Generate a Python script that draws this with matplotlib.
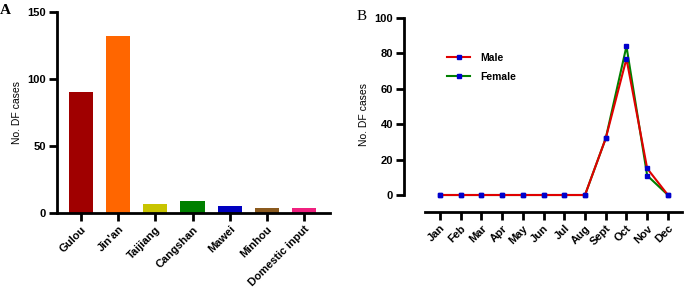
import matplotlib
matplotlib.use("Agg")
import matplotlib.pyplot as plt

plt.rcParams['font.family'] = ['Liberation Sans', 'DejaVu Sans']

districts = ["Gulou", "Jin'an", "Taijiang", "Cangshan", "Mawei", "Minhou", "Domestic input"]
district_cases = [90, 132, 7, 9, 5, 4, 4]
district_colors = ["#A00000", "#FF6600", "#C8C400", "#008000", "#0000C0", "#8B5A1E", "#F0207F"]

months = ["Jan", "Feb", "Mar", "Apr", "May", "Jun", "Jul", "Aug", "Sept", "Oct", "Nov", "Dec"]
male = [0, 0, 0, 0, 0, 0, 0, 0, 32, 77, 15, 0]
female = [0, 0, 0, 0, 0, 0, 0, 0, 32, 84, 11, 0]

fig = plt.figure(figsize=(6.85, 2.93), dpi=100)

# Panel A
axA = fig.add_axes([57/685, 1-213/293, (330-57)/685, (213-12)/293])
x = range(len(districts))
axA.bar(x, district_cases, width=0.65, color=district_colors)
axA.set_xlim(-0.65, 6.7)
axA.set_ylim(0, 150)
axA.set_yticks([0, 50, 100, 150])
axA.set_xticks(list(x))
axA.set_xticklabels(districts, rotation=45, ha='right', rotation_mode='anchor',
                    fontsize=8, fontweight='bold')
for lab in axA.get_yticklabels():
    lab.set_fontsize(8); lab.set_fontweight('bold')
axA.set_ylabel("No. DF cases", fontsize=7.5)
for s in ['top', 'right']:
    axA.spines[s].set_visible(False)
for s in ['left', 'bottom']:
    axA.spines[s].set_linewidth(2)
axA.tick_params(width=2, length=6, pad=2)

# Panel B
axB = fig.add_axes([425/685, 1-212/293, (682-425)/685, (212-18)/293])
xm = range(len(months))
axB.plot(xm, female, color="#008000", lw=1.5, marker='s', ms=3.5,
         mfc="#0000CC", mec="#0000CC", label="Female")
axB.plot(xm, male, color="#E00000", lw=1.5, marker='s', ms=3.5,
         mfc="#0000CC", mec="#0000CC", label="Male")
axB.set_xlim(-0.72, 11.68)
axB.set_ylim(-9.6, 100)
axB.spines['left'].set_bounds(0, 100)
axB.spines['left'].set_position(('outward', 15))
axB.set_yticks([0, 20, 40, 60, 80, 100])
axB.set_xticks(list(xm))
axB.set_xticklabels(months, rotation=45, ha='right', rotation_mode='anchor',
                    fontsize=8, fontweight='bold')
for lab in axB.get_yticklabels():
    lab.set_fontsize(8); lab.set_fontweight('bold')
axB.set_ylabel("No. DF cases", fontsize=7.5)
for s in ['top', 'right']:
    axB.spines[s].set_visible(False)
for s in ['left', 'bottom']:
    axB.spines[s].set_linewidth(2)
axB.tick_params(width=2, length=6, pad=2)
h, l = axB.get_legend_handles_labels()
leg = axB.legend(h[::-1], l[::-1], loc='upper left', bbox_to_anchor=(0.05, 0.87),
                 frameon=False, prop={'size': 7.5, 'weight': 'bold'},
                 handlelength=2.2, labelspacing=0.9, handletextpad=1.0)

fig.text(0.0, 0.985, "A", fontsize=11, fontweight='bold', family='Liberation Serif', va='top')
fig.text(357/685, 0.965, "B", fontsize=11, family='Liberation Serif', va='top')

fig.savefig("out.png", dpi=100)
